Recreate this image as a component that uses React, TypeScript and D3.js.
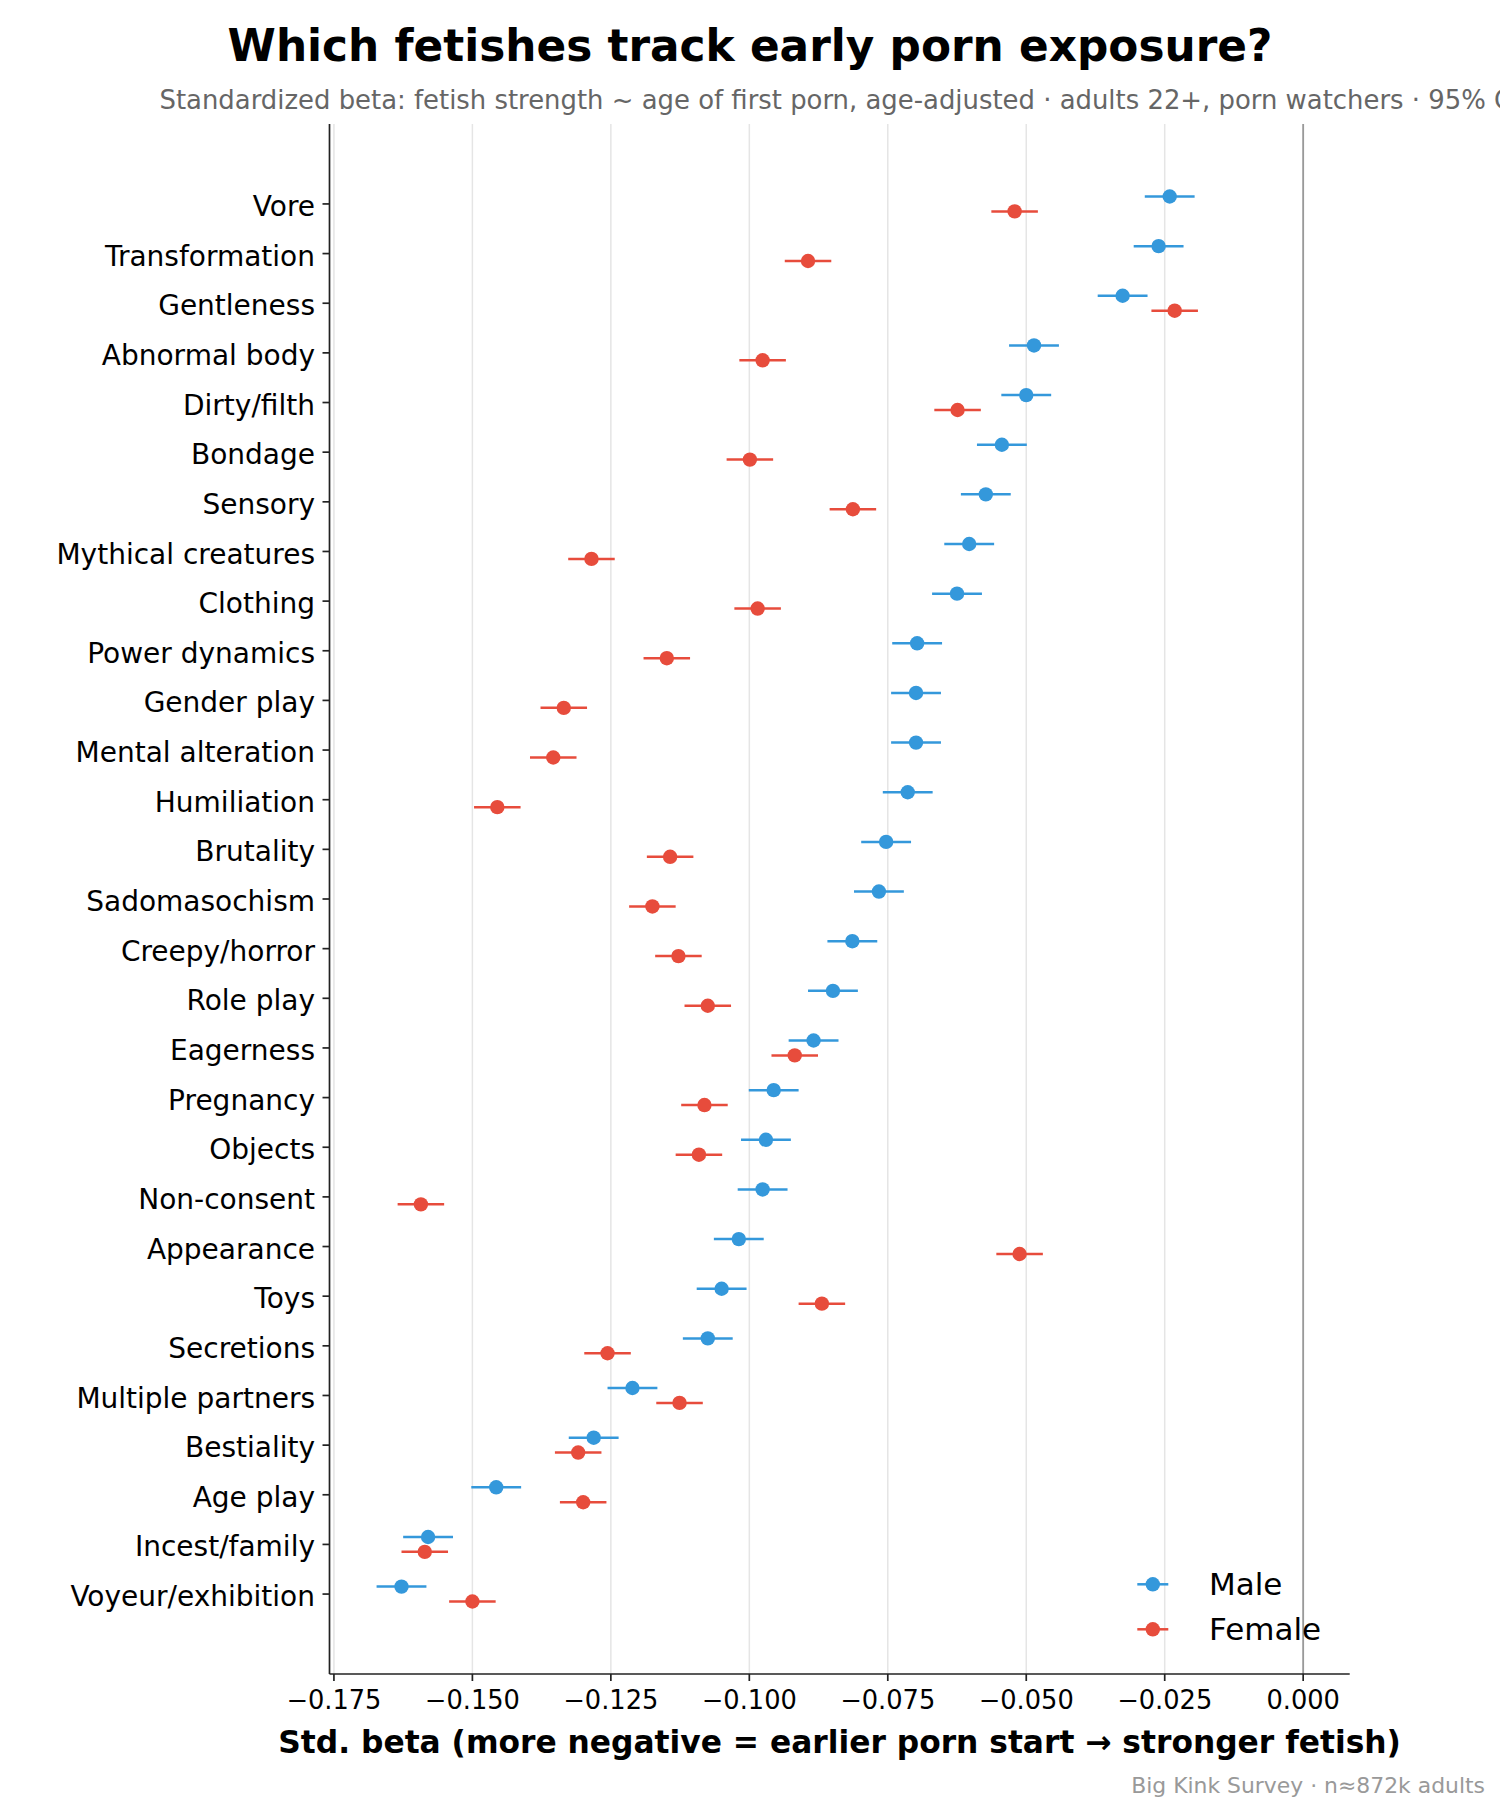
import React from "react";
import * as d3 from "d3";

const categories = ["Vore","Transformation","Gentleness","Abnormal body","Dirty/filth","Bondage","Sensory","Mythical creatures","Clothing","Power dynamics","Gender play","Mental alteration","Humiliation","Brutality","Sadomasochism","Creepy/horror","Role play","Eagerness","Pregnancy","Objects","Non-consent","Appearance","Toys","Secretions","Multiple partners","Bestiality","Age play","Incest/family","Voyeur/exhibition"];

const maleBeta = [-0.0241,-0.0261,-0.0326,-0.0486,-0.0500,-0.0544,-0.0573,-0.0603,-0.0625,-0.0697,-0.0699,-0.0699,-0.0714,-0.0753,-0.0766,-0.0814,-0.0849,-0.0884,-0.0956,-0.0970,-0.0976,-0.1019,-0.1050,-0.1075,-0.1211,-0.1281,-0.1457,-0.1580,-0.1628];
const maleCI = [0.0045,0.0045,0.0045,0.0045,0.0045,0.0045,0.0045,0.0045,0.0045,0.0045,0.0045,0.0045,0.0045,0.0045,0.0045,0.0045,0.0045,0.0045,0.0045,0.0045,0.0045,0.0045,0.0045,0.0045,0.0045,0.0045,0.0045,0.0045,0.0045];

const femaleBeta = [-0.0521,-0.0894,-0.0232,-0.0976,-0.0624,-0.0999,-0.0813,-0.1285,-0.0985,-0.1149,-0.1335,-0.1354,-0.1455,-0.1143,-0.1175,-0.1128,-0.1075,-0.0918,-0.1081,-0.1091,-0.1593,-0.0512,-0.0869,-0.1256,-0.1126,-0.1309,-0.1300,-0.1586,-0.1500];
const femaleCI = [0.0042,0.0042,0.0042,0.0042,0.0042,0.0042,0.0042,0.0042,0.0042,0.0042,0.0042,0.0042,0.0042,0.0042,0.0042,0.0042,0.0042,0.0042,0.0042,0.0042,0.0042,0.0042,0.0042,0.0042,0.0042,0.0042,0.0042,0.0042,0.0042];

const xTicks = [-0.175,-0.15,-0.125,-0.1,-0.075,-0.05,-0.025,0];

const series = [
  { name: "Male", color: "#3498db", beta: maleBeta, ci: maleCI, offset: -0.15 },
  { name: "Female", color: "#e74c3c", beta: femaleBeta, ci: femaleCI, offset: 0.15 },
];

const W = 1500, H = 1800;
const left = 329.5, right = 1349.7, top = 124, bottom = 1674;
const FONT = "DejaVu Sans, sans-serif";

export default function App() {
  const x = d3.scaleLinear().domain([-0.1758, 0.0084]).range([left, right]);
  const y = d3.scaleLinear().domain([-1.61, categories.length - 1 + 1.61]).range([top, bottom]);
  const fmt = (v: number) => (v < 0 ? "\u2212" : "") + d3.format(".3f")(Math.abs(v));

  return (
    <svg width={W} height={H} style={{ position: "absolute", left: 0, top: 0, background: "#fff" }} fontFamily={FONT}>
      <rect x={0} y={0} width={W} height={H} fill="#fff" />
      {/* grid */}
      {xTicks.map((t) => (
        <line key={"g" + t} x1={x(t)} x2={x(t)} y1={top} y2={bottom} stroke="#e5e5e5" strokeWidth={1.5} />
      ))}
      {/* zero line */}
      <line x1={x(0)} x2={x(0)} y1={top} y2={bottom} stroke="#999" strokeWidth={1.8} />
      {/* series */}
      {series.map((s) => (
        <g key={s.name}>
          {categories.map((c, i) => {
            const cy = y(i + s.offset);
            return (
              <g key={c}>
                <line x1={x(s.beta[i] - s.ci[i])} x2={x(s.beta[i] + s.ci[i])} y1={cy} y2={cy} stroke={s.color} strokeWidth={2.5} />
                <circle cx={x(s.beta[i])} cy={cy} r={7.2} fill={s.color} />
              </g>
            );
          })}
        </g>
      ))}
      {/* axes spines */}
      <line x1={left} x2={left} y1={top} y2={bottom} stroke="#222" strokeWidth={1.7} />
      <line x1={left} x2={right} y1={bottom} y2={bottom} stroke="#222" strokeWidth={1.7} />
      {/* y ticks */}
      {categories.map((c, i) => (
        <g key={"yt" + c}>
          <line x1={left - 7} x2={left} y1={y(i)} y2={y(i)} stroke="#222" strokeWidth={1.7} />
          <text x={315} y={y(i)} dy="0.43em" textAnchor="end" fontSize={28} fill="#000">{c}</text>
        </g>
      ))}
      {/* x ticks */}
      {xTicks.map((t) => (
        <g key={"xt" + t}>
          <line x1={x(t)} x2={x(t)} y1={bottom} y2={bottom + 7} stroke="#222" strokeWidth={1.7} />
          <text x={x(t)} y={1709.3} textAnchor="middle" fontSize={25.7} fill="#000">{fmt(t)}</text>
        </g>
      ))}
      {/* x label */}
      <text x={(left + right) / 2} y={1753.3} textAnchor="middle" fontSize={31.3} fontWeight="bold" fill="#000">
        Std. beta (more negative = earlier porn start → stronger fetish)
      </text>
      {/* title */}
      <text x={750} y={61} textAnchor="middle" fontSize={43.8} fontWeight="bold" fill="#000">
        Which fetishes track early porn exposure?
      </text>
      <text x={(left + right) / 2} y={109.3} textAnchor="middle" fontSize={25.9} fill="#666">
        Standardized beta: fetish strength ~ age of first porn, age-adjusted · adults 22+, porn watchers · 95% CI
      </text>
      {/* legend */}
      {series.map((s, k) => {
        const ly = 1584.3 + k * 45;
        return (
          <g key={"lg" + s.name}>
            <line x1={1137.3} x2={1168.3} y1={ly} y2={ly} stroke={s.color} strokeWidth={2.5} />
            <circle cx={1152.8} cy={ly} r={7.2} fill={s.color} />
            <text x={1209} y={ly} dy="0.36em" fontSize={31} fill="#000">{s.name}</text>
          </g>
        );
      })}
      {/* footer */}
      <text x={1485} y={1793} textAnchor="end" fontSize={21.9} fill="#999">Big Kink Survey · n≈872k adults</text>
    </svg>
  );
}
